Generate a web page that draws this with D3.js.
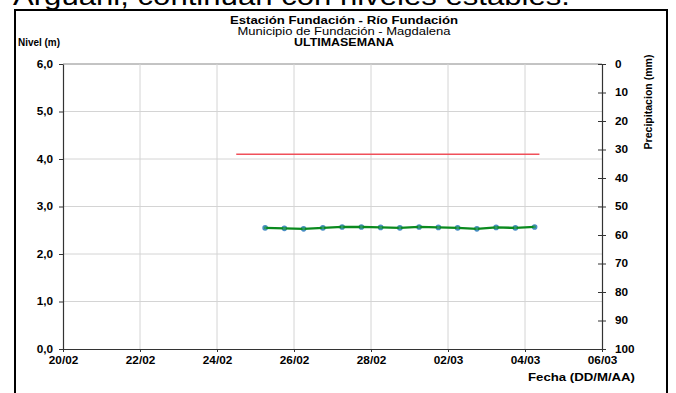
<!DOCTYPE html>
<html>
<head>
<meta charset="utf-8">
<script src="https://cdn.jsdelivr.net/npm/d3@7"></script>
<style>
  body { margin: 0; background: #fff; }
  svg { display: block; font-family: "Liberation Sans", Arial, sans-serif; }
</style>
</head>
<body>
<svg id="chart"></svg>
<script>
// level readings every 12 h (m)
const levelDates = [
  "2019-02-25T06:00", "2019-02-25T18:00", "2019-02-26T06:00", "2019-02-26T18:00",
  "2019-02-27T06:00", "2019-02-27T18:00", "2019-02-28T06:00", "2019-02-28T18:00",
  "2019-03-01T06:00", "2019-03-01T18:00", "2019-03-02T06:00", "2019-03-02T18:00",
  "2019-03-03T06:00", "2019-03-03T18:00", "2019-03-04T06:00"
];
const levelValues = [2.55, 2.54, 2.53, 2.55, 2.57, 2.57, 2.56, 2.55, 2.57, 2.56, 2.55, 2.53, 2.56, 2.55, 2.57];

// alert level line
const alertDates = ["2019-02-24T12:00", "2019-03-04T09:00"];
const alertValues = [4.1, 4.1];

const xTickDates = ["2019-02-20", "2019-02-22", "2019-02-24", "2019-02-26", "2019-02-28", "2019-03-02", "2019-03-04", "2019-03-06"];
const levelTicks = [0, 1, 2, 3, 4, 5, 6];
const rainTicks = [0, 10, 20, 30, 40, 50, 60, 70, 80, 90, 100];

const titleLines = ["Estación Fundación - Río Fundación", "Municipio de Fundación - Magdalena", "ULTIMASEMANA"];

const width = 676, height = 393;
const plot = { left: 63, right: 602, top: 64, bottom: 349 };
const stretchK = 1.12; // text in the picture looks a bit wide

const parse = d3.isoParse;
const svg = d3.select("#chart").attr("width", width).attr("height", height);

// text above the chart, cut by the top edge
svg.append("text")
  .attr("x", 13).attr("y", 5)
  .attr("textLength", 557).attr("lengthAdjust", "spacingAndGlyphs")
  .style("font-size", "26px")
  .text("Arguani, continúan con niveles estables.");

// outer frame
svg.append("rect")
  .attr("x", 15).attr("y", 10)
  .attr("width", 652).attr("height", 400)
  .attr("fill", "none").attr("stroke", "#000").attr("stroke-width", 2);

const xTicks = xTickDates.map(d => parse(d));
const x = d3.scaleTime()
  .domain([xTicks[0], xTicks[xTicks.length - 1]])
  .range([plot.left, plot.right]);
const y = d3.scaleLinear().domain([0, 6]).range([plot.bottom, plot.top]);
const yRain = d3.scaleLinear().domain([0, 100]).range([plot.top, plot.bottom]);

// grid
const grid = svg.append("g");
grid.selectAll("line.h")
  .data(levelTicks.slice(1))
  .join("line")
  .attr("x1", plot.left).attr("x2", plot.right)
  .attr("y1", d => y(d)).attr("y2", d => y(d))
  .attr("stroke", d => d === 6 ? "#888" : "#d4d4d4").attr("stroke-width", 1);
grid.selectAll("line.v")
  .data(xTicks.slice(1, -1))
  .join("line")
  .attr("x1", d => x(d)).attr("x2", d => x(d))
  .attr("y1", plot.top).attr("y2", plot.bottom)
  .attr("stroke", "#d4d4d4").attr("stroke-width", 1);

// axes
const fmtLevel = d => d3.format(".1f")(d).replace(".", ",");

const gLeft = svg.append("g")
  .attr("transform", `translate(${plot.left},0)`)
  .call(d3.axisLeft(y).tickValues(levelTicks).tickFormat(fmtLevel).tickSize(4).tickSizeOuter(0).tickPadding(6));

const gRight = svg.append("g")
  .attr("transform", `translate(${plot.right},0)`)
  .call(d3.axisRight(yRain).tickValues(rainTicks).tickSize(4).tickSizeOuter(0).tickPadding(9));
gRight.selectAll(".tick line").attr("x1", -4);

const gBottom = svg.append("g")
  .attr("transform", `translate(0,${plot.bottom})`)
  .call(d3.axisBottom(x).tickValues(xTicks).tickFormat(d3.timeFormat("%d/%m")).tickSize(3).tickSizeOuter(0).tickPadding(5));

[gLeft, gRight, gBottom].forEach(g => {
  g.select(".domain").attr("stroke", "#333").attr("stroke-width", 1.2);
  g.selectAll(".tick line").attr("stroke", "#333");
  g.selectAll(".tick text")
    .attr("fill", "#000")
    .style("font-size", "10.5px")
    .style("font-weight", "bold")
    .style("font-family", "'Liberation Sans', Arial, sans-serif")
    .each(function(){
      const len = this.getComputedTextLength();
      d3.select(this).attr("textLength", len * stretchK).attr("lengthAdjust", "spacingAndGlyphs");
    });
});

// alert line
const line = d3.line().x(d => x(d.date)).y(d => y(d.value));
const alertData = alertDates.map((d, i) => ({ date: parse(d), value: alertValues[i] }));
svg.append("path")
  .datum(alertData)
  .attr("d", line)
  .attr("fill", "none")
  .attr("stroke", "#f0505a")
  .attr("stroke-width", 1.6);

// level series
const levelData = levelDates.map((d, i) => ({ date: parse(d), value: levelValues[i] }));
svg.append("g").selectAll("circle")
  .data(levelData)
  .join("circle")
  .attr("cx", d => x(d.date))
  .attr("cy", d => y(d.value))
  .attr("r", 2.8)
  .attr("fill", "#4a8ec4");
svg.append("path")
  .datum(levelData)
  .attr("d", line)
  .attr("fill", "none")
  .attr("stroke", "#0a8a1e")
  .attr("stroke-width", 2.4);
svg.append("g").selectAll("circle")
  .data(levelData)
  .join("circle")
  .attr("cx", d => x(d.date))
  .attr("cy", d => y(d.value))
  .attr("r", 1.4)
  .attr("fill", "#2e9a6a");

// titles
const titleWidths = [228, 213, 100];
svg.selectAll("text.title")
  .data(titleLines)
  .join("text")
  .attr("class", "title")
  .attr("x", 344)
  .attr("y", (d, i) => 24 + i * 11)
  .attr("text-anchor", "middle")
  .attr("textLength", (d, i) => titleWidths[i])
  .attr("lengthAdjust", "spacingAndGlyphs")
  .style("font-size", "10.5px")
  .style("font-weight", (d, i) => i === 1 ? "normal" : "bold")
  .text(d => d);

svg.append("text")
  .attr("x", 18).attr("y", 46)
  .attr("textLength", 42).attr("lengthAdjust", "spacingAndGlyphs")
  .style("font-size", "10.5px").style("font-weight", "bold")
  .text("Nivel (m)");

svg.append("text")
  .attr("transform", `translate(652,102) rotate(-90)`)
  .attr("text-anchor", "middle")
  .attr("textLength", 95).attr("lengthAdjust", "spacingAndGlyphs")
  .style("font-size", "10.5px").style("font-weight", "bold")
  .text("Precipitacion (mm)");

svg.append("text")
  .attr("x", 635).attr("y", 381)
  .attr("text-anchor", "end")
  .attr("textLength", 107).attr("lengthAdjust", "spacingAndGlyphs")
  .style("font-size", "10.5px").style("font-weight", "bold")
  .text("Fecha (DD/M/AA)");
</script>
</body>
</html>
